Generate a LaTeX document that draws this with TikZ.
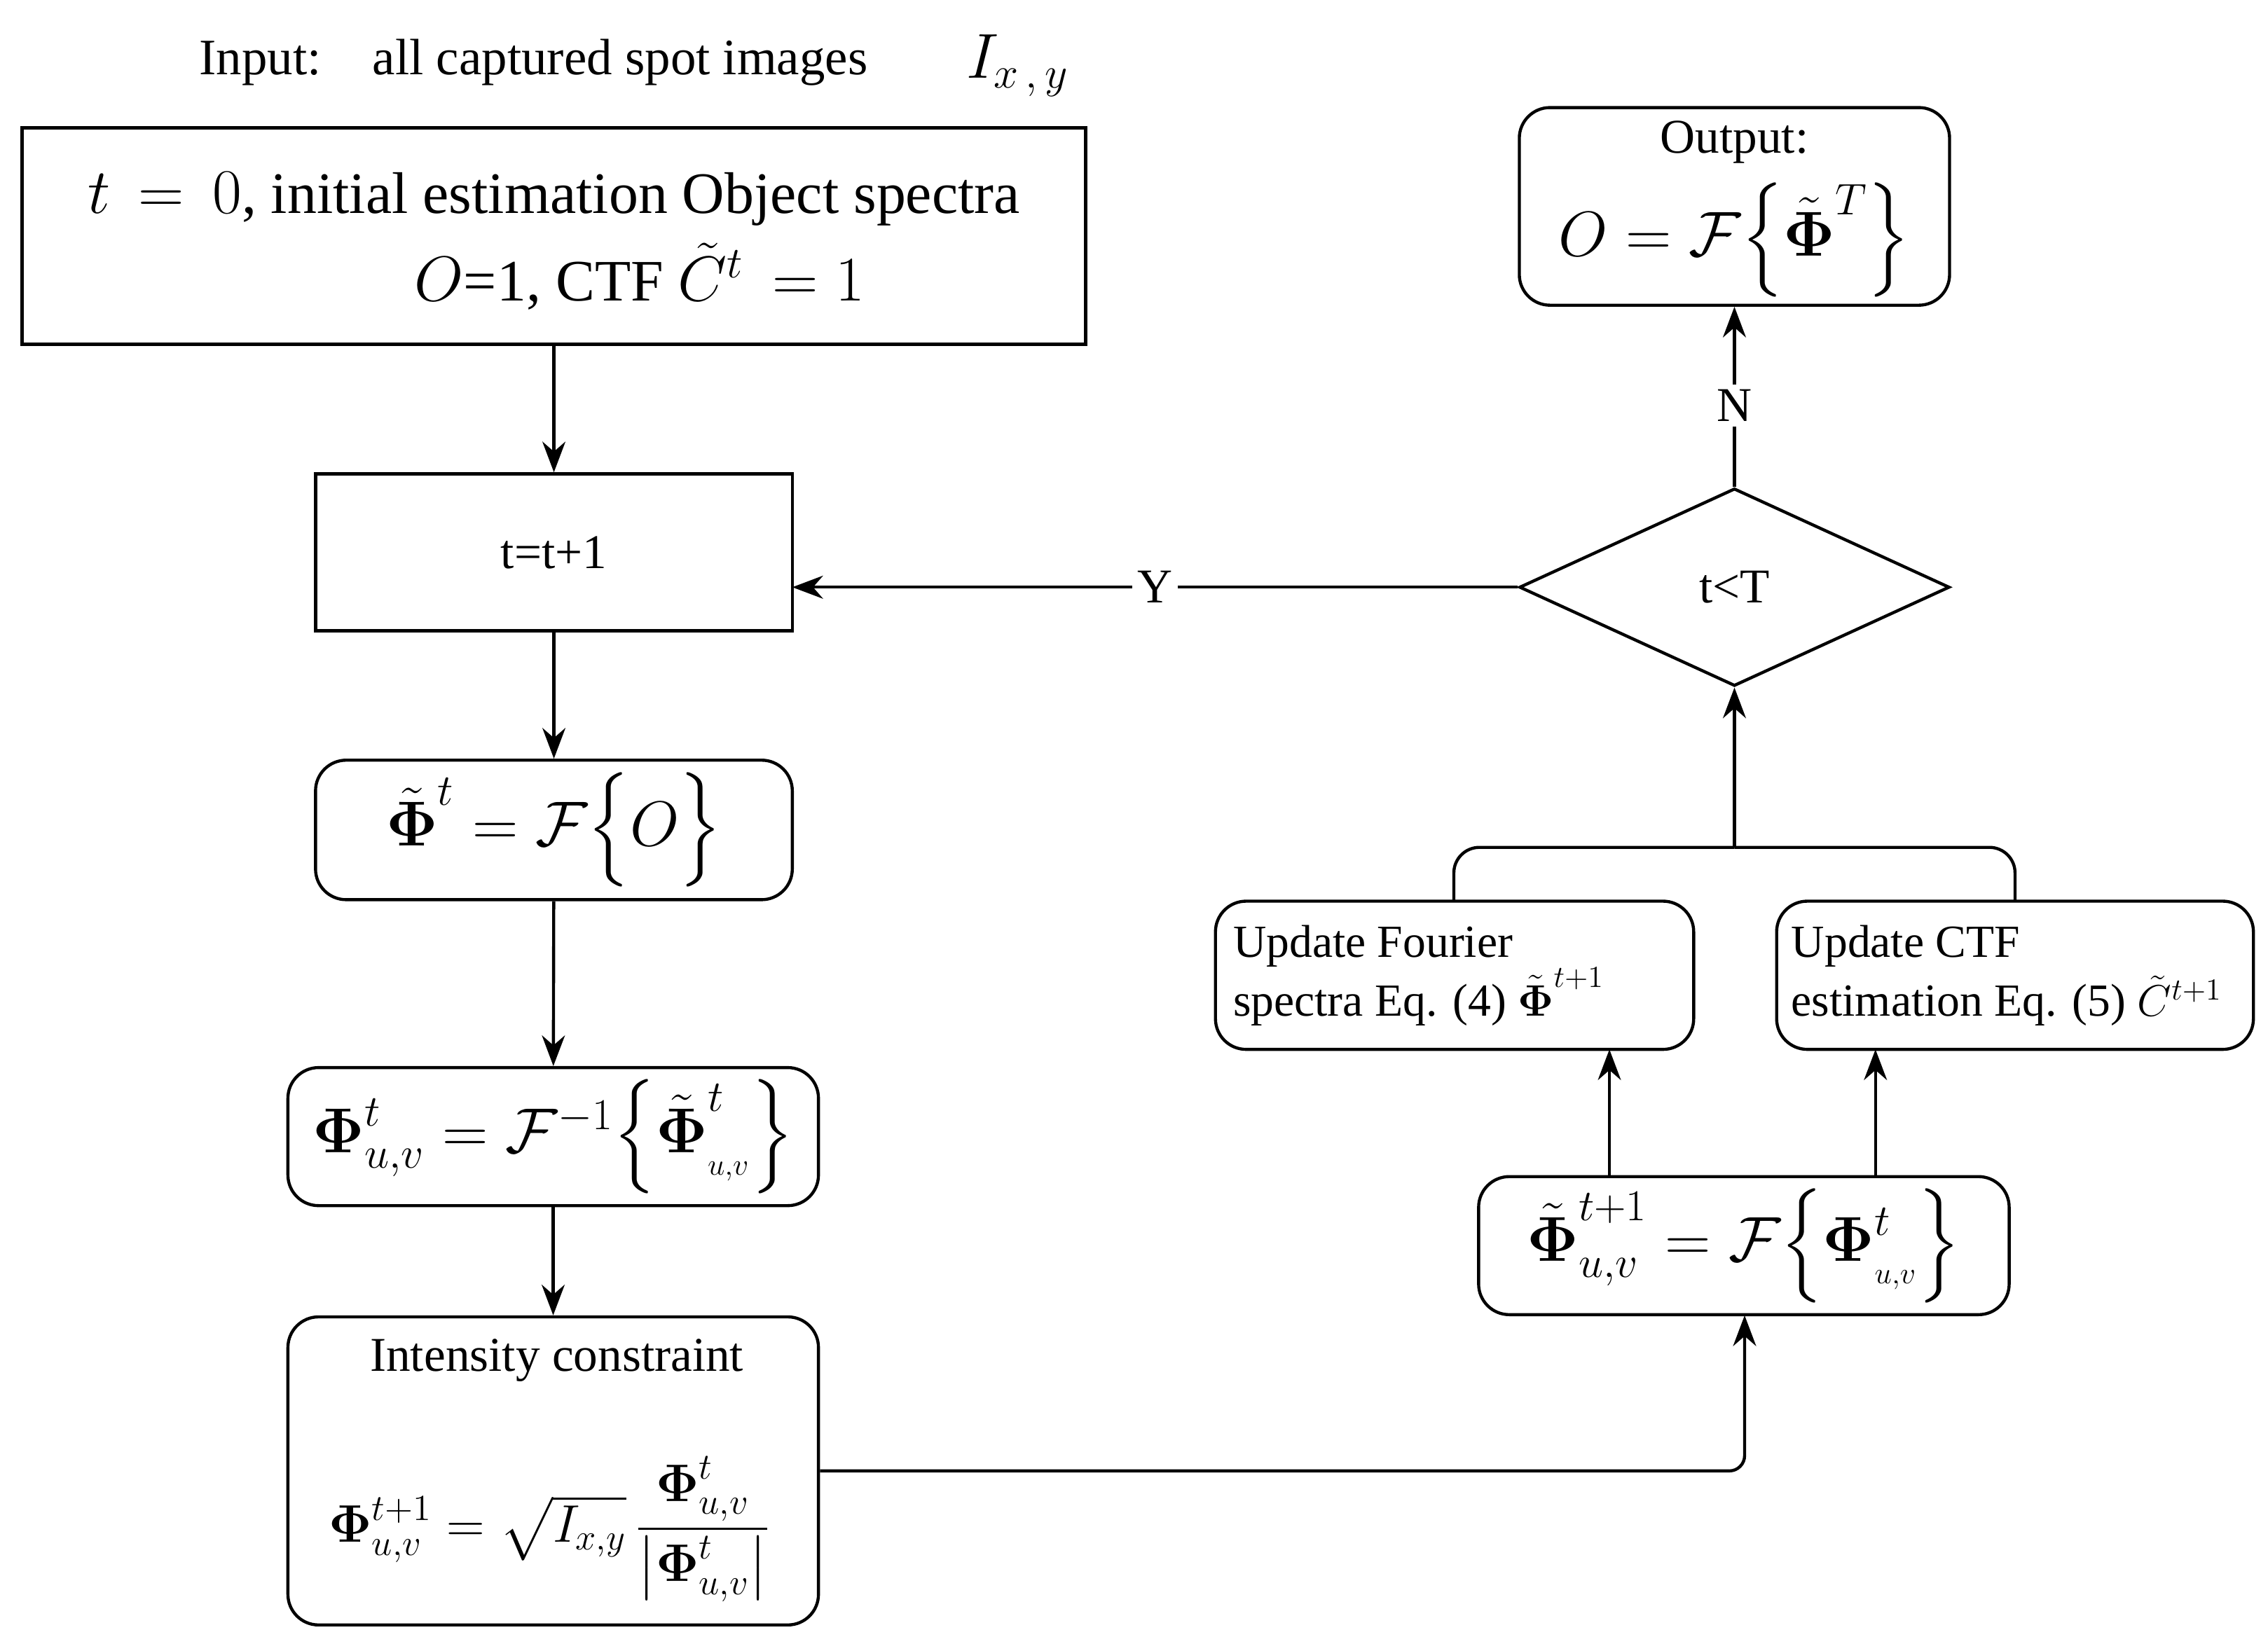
\documentclass[tikz,border=0pt]{standalone}
\usepackage{amsmath,bm}
\usepackage{fontspec}
\setmainfont{Liberation Serif}
\usetikzlibrary{shapes.geometric,arrows.meta}
\begin{document}
\begin{tikzpicture}[x=0.02cm,y=-0.02cm,
  box/.style={draw,line width=1.2pt,inner sep=0pt,font=\fontsize{19}{23}\selectfont},
  rbox/.style={box,rounded corners=12pt},
  arr/.style={line width=1.2pt,-{Stealth[length=12pt,width=9pt]}},
  ln/.style={line width=1.2pt}]
\useasboundingbox (0,0) rectangle (1560,1131);
\node[font=\fontsize{20}{24}\selectfont] (in) at (367,43) {Input:\quad all captured spot images};
\node[font=\fontsize{26}{30}\selectfont] (ixy) at (700,45) {$I_{x\,,\,y}$};
\node[draw,line width=1.4pt,minimum width=14.64cm,minimum height=2.98cm,inner sep=0pt] (b0) at (381,162.5) {};
\node[font=\fontsize{23}{27}\selectfont] (t1) at (381,137) {$t\,=\,0$, initial estimation Object spectra};
\node[font=\fontsize{23}{27}\selectfont] (t2) at (440,190) {$O$=1, CTF $\tilde{C}^{t}\,=1$};
\node[box,minimum width=6.56cm,minimum height=2.16cm] (tt) at (381,380) {t=t+1};
\coordinate (tte) at (545,404);
\node[rbox,minimum width=6.56cm,minimum height=1.92cm,font=\fontsize{26}{30}\selectfont] (p1) at (381,571) {$\tilde{\bm\Phi}^{t}=\mathcal{F}\Big\{O\Big\}$};
\node[rbox,minimum width=7.3cm,minimum height=1.9cm,font=\fontsize{26}{30}\selectfont] (p2) at (380.5,782) {$\bm\Phi^{t}_{u,v}=\mathcal{F}^{-1}\Big\{\tilde{\bm\Phi}^{t}_{_{u,v}}\Big\}$};
\node[rbox,minimum width=7.3cm,minimum height=4.24cm] (ic) at (380.5,1012) {};
\node[font=\fontsize{19}{23}\selectfont] (ict) at (383,936) {Intensity constraint};
\node[font=\fontsize{21}{25}\selectfont] (icm) at (378,1052) {$\bm\Phi^{t+1}_{u,v}=\sqrt{I_{x,y}}\,\dfrac{\bm\Phi^{t}_{u,v}}{\bigl|\bm\Phi^{t}_{u,v}\bigr|}$};
\node[rbox,minimum width=5.92cm,minimum height=2.72cm] (out) at (1193,142) {};
\node[font=\fontsize{19}{23}\selectfont] (ot) at (1193,98) {Output:};
\node[font=\fontsize{25}{30}\selectfont] (om) at (1193,165) {$O=\mathcal{F}\Big\{\tilde{\bm\Phi}^{T}\Big\}$};
\node[draw,diamond,line width=1.2pt,minimum width=5.92cm,minimum height=2.72cm,inner sep=0pt,font=\fontsize{19}{23}\selectfont] (d) at (1193,404) {t<T};
\node[rbox,minimum width=6.58cm,minimum height=2.04cm] (uf) at (1000.5,671) {};
\node[font=\fontsize{18}{23}\selectfont,align=left,anchor=west] (uft) at (842,671) {Update Fourier\\spectra Eq. (4) $\tilde{\bm\Phi}^{t+1}$};
\node[rbox,minimum width=6.56cm,minimum height=2.04cm] (uc) at (1386,671) {};
\node[font=\fontsize{18}{23}\selectfont,align=left,anchor=west] (uct) at (1226,671) {Update CTF\\estimation Eq. (5) $\tilde{C}^{t+1}$};
\node[rbox,minimum width=7.3cm,minimum height=1.9cm,font=\fontsize{26}{30}\selectfont] (p3) at (1199.5,857) {$\tilde{\bm\Phi}^{t+1}_{u,v}=\mathcal{F}\Big\{\bm\Phi^{t}_{_{u,v}}\Big\}$};
\draw[arr] (b0) -- (tt);
\draw[arr] (tt) -- (p1);
\draw[arr] (p1) -- (p2);
\draw[arr] (p2) -- (ic);
\draw[arr,rounded corners=6pt] (ic.east) -- (1200,1012) -- (1200,905);
\draw[arr] (1107,810) -- (1107,722);
\draw[arr] (1290,810) -- (1290,722);
\draw[ln,rounded corners=10pt] (1000,620) -- (1000,583) -- (1193,583);
\draw[ln,rounded corners=10pt] (1386,620) -- (1386,583) -- (1193,583);
\draw[arr] (1193,583) -- (d.south);
\draw[arr] (d.west) -- node[fill=white,font=\fontsize{19}{23}\selectfont,inner sep=2pt]{Y} (tte);
\draw[arr] (d.north) -- node[fill=white,font=\fontsize{19}{23}\selectfont,inner sep=2pt,pos=0.45]{N} (out.south);
\end{tikzpicture}
\end{document}
